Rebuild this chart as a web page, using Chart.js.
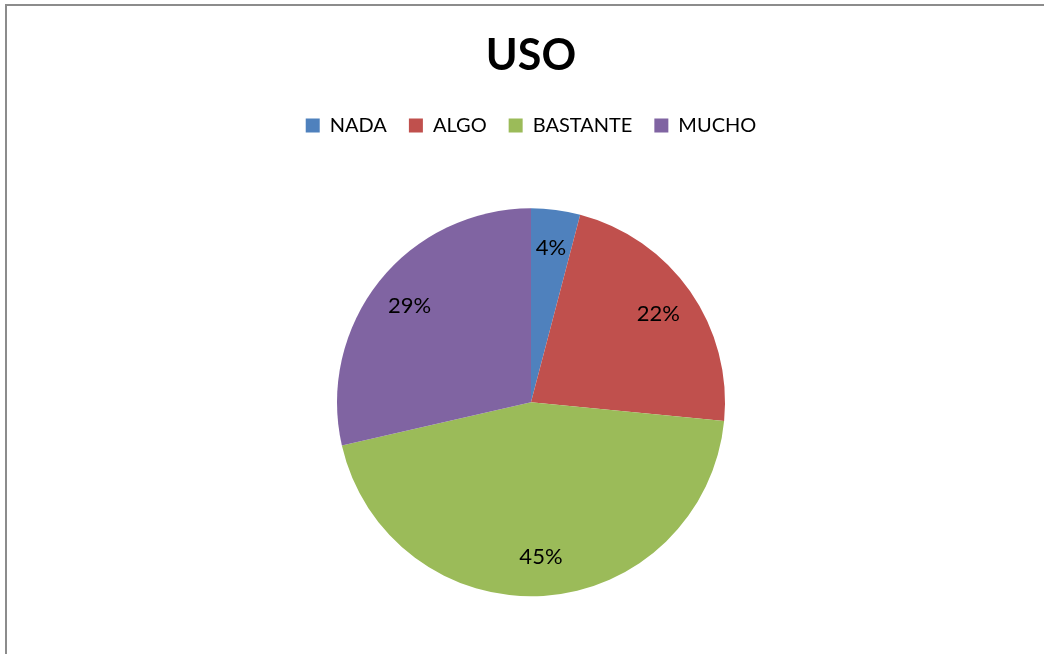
<!DOCTYPE html>
<html lang="es">
<head>
    <meta charset="UTF-8">
    <title>USO</title>
    <script src="https://cdn.jsdelivr.net/npm/chart.js"></script>
    <style>
        html, body {
            margin: 0;
            padding: 0;
            background: #fff;
            overflow: hidden;
        }
        #frame {
            position: absolute;
            left: 5px;
            top: 4px;
            width: 1050px;
            height: 670px;
            border-left: 2px solid #8c8c8c;
            border-top: 2px solid #8c8c8c;
        }
        #chartCanvas {
            display: block;
        }
    </style>
</head>
<body>
    <div id="frame">
        <canvas id="chartCanvas" width="1048" height="660"></canvas>
    </div>

    <script>
        const categories = ['NADA', 'ALGO', 'BASTANTE', 'MUCHO'];
        const counts = [2, 11, 22, 14];
        const colors = ['#4F81BD', '#C0504D', '#9BBB59', '#8064A2'];

        const fontFamily = 'Lato, "Open Sans", sans-serif';

        // etiquetas de porcentaje dentro de cada sector
        const percentLabels = {
            id: 'percentLabels',
            afterDatasetsDraw(chart) {
                const ctx = chart.ctx;
                const meta = chart.getDatasetMeta(0);
                const total = counts.reduce((a, b) => a + b, 0);
                ctx.save();
                ctx.font = '22px ' + fontFamily;
                ctx.fillStyle = '#000';
                ctx.textAlign = 'center';
                ctx.textBaseline = 'middle';
                meta.data.forEach((arc, i) => {
                    const mid = (arc.startAngle + arc.endAngle) / 2;
                    const r = arc.outerRadius * 0.8;
                    const x = arc.x + Math.cos(mid) * r;
                    const y = arc.y + Math.sin(mid) * r;
                    ctx.fillText(Math.round(counts[i] / total * 100) + '%', x, y);
                });
                ctx.restore();
            }
        };

        new Chart(document.getElementById('chartCanvas'), {
            type: 'pie',
            data: {
                labels: categories,
                datasets: [{
                    data: counts,
                    backgroundColor: colors,
                    borderWidth: 0
                }]
            },
            options: {
                responsive: false,
                animation: false,
                radius: 194,
                layout: {
                    padding: { top: 0, bottom: 7, left: 0, right: 0 }
                },
                plugins: {
                    title: {
                        display: true,
                        text: 'USO',
                        color: '#000',
                        font: { family: fontFamily, size: 43, weight: 'bold' },
                        padding: { top: 24, bottom: 12 }
                    },
                    legend: {
                        position: 'top',
                        labels: {
                            color: '#000',
                            font: { family: fontFamily, size: 20 },
                            boxWidth: 14,
                            boxHeight: 14,
                            padding: 22
                        }
                    },
                    tooltip: { enabled: false }
                }
            },
            plugins: [percentLabels]
        });
    </script>
</body>
</html>
